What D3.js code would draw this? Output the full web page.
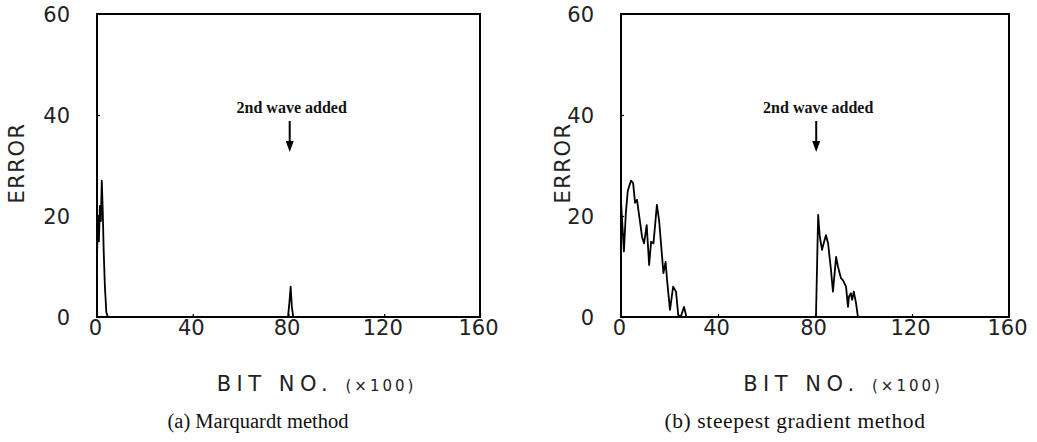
<!DOCTYPE html>
<html><head><meta charset="utf-8">
<script src="https://cdn.jsdelivr.net/npm/d3@7"></script>
<style>body{margin:0;background:#fff}svg{display:block}</style>
</head><body><svg id="c" width="1037" height="442"></svg>
<script>
// ---- data ----
const xTicks = [0, 40, 80, 120, 160];
const yTicks = [0, 20, 40, 60];
const xLabel = "BIT NO.";
const xUnit = "(×100)";
const yLabel = "ERROR";
const annotation = "2nd wave added";
const annotationX = 80.5;
const captionA = "(a) Marquardt method";
const captionB = "(b) steepest gradient method";
// Marquardt method error curve: [bit(x100), error]
const marqX = [0, 0.4, 0.8, 1.2, 1.6, 2.0, 2.4, 2.8, 3.3, 3.9, 4.5, 79.8, 80.4, 80.9, 81.4, 82.0, 160];
const marqY = [12, 20, 15, 22, 19, 27, 21, 13, 6, 1, 0, 0, 3, 6, 2, 0, 0];
// Steepest gradient method error curve
const steepX = [0, 0.6, 1.2, 2.0, 2.8, 4.1, 5.0, 5.8, 6.6, 8.7, 9.5, 10.6, 11.6, 12.4, 13.4, 14.8, 15.7, 17.5, 18.4, 19.0, 20.2, 21.5, 22.7, 23.6, 24.6, 26.0, 27.0, 80.4, 81.3, 82.0, 82.9, 83.6, 84.5, 85.4, 86.6, 87.4, 88.7, 89.5, 90.7, 91.5, 92.8, 93.6, 94.0, 94.8, 95.3, 96.0, 96.9, 97.7, 160];
const steepY = [23, 18, 13, 20.6, 25, 27, 26.5, 22.6, 23.2, 15.8, 14.6, 18.2, 10.3, 14.9, 14.6, 22.2, 19.2, 8.7, 10.9, 7.3, 1.4, 6, 5, 0.4, 0, 2, 0, 0, 20.2, 15.8, 13.3, 14.6, 16.2, 14.6, 9.3, 5, 11.9, 9.9, 7.7, 7.3, 6, 2, 4, 4.7, 3.4, 5, 2.8, 0, 0];

const svg = d3.select("#c");
const tickFont = "'DejaVu Sans', sans-serif";
const serif = "'Liberation Serif', 'Times New Roman', serif";

function panel(opt) {
  const x = d3.scaleLinear().domain([0, 160]).range([opt.left, opt.right]);
  const y = d3.scaleLinear().domain([0, 60]).range([317, 14]);
  const g = svg.append("g");
  // frame
  g.append("rect").attr("x", opt.left).attr("y", 14)
    .attr("width", opt.right - opt.left).attr("height", 317 - 14)
    .attr("fill", "none").attr("stroke", "#000").attr("stroke-width", 2);
  // axes (ticks inward, labels)
  const xa = g.append("g").attr("transform", `translate(0,317)`)
    .call(d3.axisBottom(x).tickValues(xTicks).tickSize(-3).tickPadding(2));
  const ya = g.append("g").attr("transform", `translate(${opt.left},0)`)
    .call(d3.axisLeft(y).tickValues(yTicks).tickSize(-3).tickPadding(27));
  [xa, ya].forEach(a => {
    a.select(".domain").remove();
    a.selectAll("line").attr("stroke", "#000").attr("stroke-width", 1.2);
    a.selectAll("text").attr("font-family", tickFont).attr("font-size", 21)
      .attr("fill", "#222");
  });
  xa.selectAll("text").attr("dy", "0.75em").attr("dx", -2);
  ya.selectAll("text").attr("dy", "0.36em");
  // y label
  g.append("text").attr("transform", `translate(${opt.left - opt.yl},163) rotate(-90)`)
    .attr("text-anchor", "middle").attr("dy", "0.35em")
    .attr("font-family", tickFont).attr("font-size", 21).attr("letter-spacing", 1.5)
    .attr("fill", "#222").text(yLabel);
  // x label
  const xl = g.append("text").attr("x", (opt.left + opt.right) / 2 + 28).attr("y", 391)
    .attr("text-anchor", "middle").attr("font-family", tickFont).attr("fill", "#222");
  xl.append("tspan").attr("font-size", 21).attr("letter-spacing", 5.5).text(xLabel + " ");
  xl.append("tspan").attr("font-size", 15).attr("letter-spacing", 3).text(xUnit);
  // curve
  const pts = d3.zip(opt.xs, opt.ys);
  g.append("path").datum(pts)
    .attr("d", d3.line().x(d => x(d[0])).y(d => y(d[1])))
    .attr("fill", "none").attr("stroke", "#000").attr("stroke-width", 1.8)
    .attr("stroke-linejoin", "round");
  // annotation
  const ax = x(annotationX);
  g.append("text").attr("x", ax + 2).attr("y", 113).attr("text-anchor", "middle")
    .attr("font-family", serif).attr("font-size", 16).attr("font-weight", "bold")
    .attr("fill", "#111").text(annotation);
  g.append("line").attr("x1", ax).attr("x2", ax).attr("y1", 121).attr("y2", 142)
    .attr("stroke", "#000").attr("stroke-width", 2);
  g.append("path").attr("d", `M${ax - 4},141 L${ax + 4},141 L${ax},152 Z`).attr("fill", "#000");
  // caption
  g.append("text").attr("x", opt.capX).attr("y", 428)
    .attr("text-anchor", "middle").attr("font-family", serif).attr("font-size", opt.capSize)
    .attr("letter-spacing", opt.capLs).attr("fill", "#111").text(opt.caption);
}

panel({ left: 97, right: 480, yl: 80, xs: marqX, ys: marqY, caption: captionA, capX: 258, capSize: 20.5, capLs: 0 });
panel({ left: 621, right: 1009, yl: 58, xs: steepX, ys: steepY, caption: captionB, capX: 795, capSize: 21.5, capLs: 0.6 });
</script></body></html>
